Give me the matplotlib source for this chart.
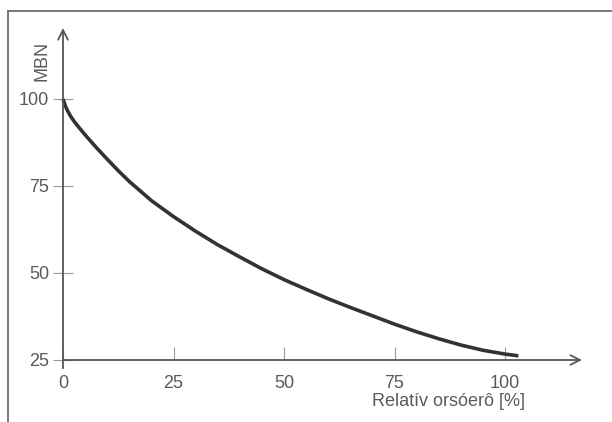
import numpy as np
import matplotlib.pyplot as plt
from matplotlib.lines import Line2D

plt.rcParams['font.family'] = ['Liberation Sans', 'DejaVu Sans']

# MBN as a function of relative spindle force
rel_force = [0, 0.5, 1, 1.75, 2.5, 3.5, 5, 7.5, 10, 12.5, 15, 20, 25, 30, 35, 40, 45, 50,
             55, 60, 65, 70, 75, 80, 85, 90, 95, 100, 103]
mbn = [100, 98.1, 96.7, 95.0, 93.6, 92.0, 89.7, 86.1, 82.7, 79.4, 76.3, 70.8, 66.2, 62.0, 58.1,
       54.6, 51.2, 48.1, 45.3, 42.6, 40.1, 37.7, 35.3, 33.1, 31.1, 29.3, 27.8, 26.7, 26.2]

x_ticks = [0, 25, 50, 75, 100]
y_ticks = [25, 50, 75, 100]

fig = plt.figure(figsize=(6.12, 4.22), dpi=100)
ax = fig.add_axes([63 / 612, 62 / 422, 519 / 612, 332 / 422])
ax.set_xlim(0, 117.4)
ax.set_ylim(25, 120.4)

for s in ax.spines.values():
    s.set_visible(False)

axis_col = '#555555'
tick_col = '#9a9a9a'
text_col = '#5a5a5a'

# axes with open arrowheads
arrow = dict(arrowstyle='->,head_length=0.7,head_width=0.35', color=axis_col, lw=1.3,
             shrinkA=0, shrinkB=0)
ax.annotate('', xy=(0, 1.0), xytext=(0, -0.025), xycoords='axes fraction',
            textcoords='axes fraction', arrowprops=arrow, annotation_clip=False)
ax.annotate('', xy=(1.0, 0), xytext=(0, 0), xycoords='axes fraction',
            textcoords='axes fraction', arrowprops=arrow, annotation_clip=False)

ax.set_xticks(x_ticks)
ax.set_yticks(y_ticks)
ax.tick_params(axis='x', direction='in', length=9.5, width=0.8, color=tick_col,
               labelsize=13, labelcolor=text_col, pad=11)
ax.tick_params(axis='y', direction='inout', length=14, width=0.8, color=tick_col,
               labelsize=13, labelcolor=text_col, pad=3)

ax.plot(rel_force, mbn, color='#333333', lw=2.6, solid_capstyle='butt',
        solid_joinstyle='round', clip_on=False)

fig.text(449 / 612, 1 - 402 / 422, 'Relatív orsóerô [%]', ha='center', va='center',
         fontsize=13, color=text_col)
fig.text(42.5 / 612, 1 - 61 / 422, 'MBN', ha='center', va='center', rotation=90,
         fontsize=13, color=text_col)

# outer frame (top and left edges)
fig.add_artist(Line2D([8 / 612, 1.0], [1 - 11 / 422, 1 - 11 / 422], color='#777777', lw=1.4))
fig.add_artist(Line2D([8 / 612, 8 / 612], [0, 1 - 11 / 422], color='#777777', lw=1.4))

fig.savefig('out.png', dpi=100)
